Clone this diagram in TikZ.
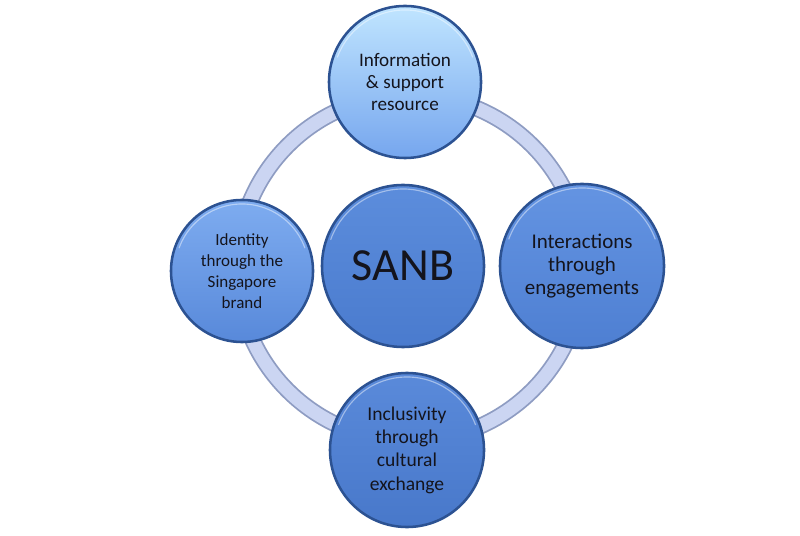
\documentclass[tikz,border=0pt]{standalone}
\usepackage{fontspec}
\setmainfont{Carlito}
\usetikzlibrary{calc}

\definecolor{ringfill}{RGB}{203,213,242}
\definecolor{ringedge}{RGB}{142,156,194}
\definecolor{rimblue}{RGB}{44,82,146}
\definecolor{txtdark}{RGB}{20,20,28}

\tikzset{
	bubble/.style={circle, draw=rimblue, line width=1.8pt, inner sep=0pt,
		align=center, text=txtdark},
	gloss/.style={white, opacity=0.45, line width=0.8pt}
}

\begin{document}
\begin{tikzpicture}[x=0.025cm,y=-0.025cm]
		% ring behind the bubbles
		\pgfmathsetmacro{\ringR}{173}
		\coordinate (hub) at (410,268);
		\draw[ringedge,line width=0.42cm] (hub) circle[radius=\ringR];
		\draw[ringfill,line width=0.33cm] (hub) circle[radius=\ringR];
		
		% the five bubbles
		\node[bubble, minimum size=3.8cm, top color={rgb,255:red,192;green,229;blue,255},
			bottom color={rgb,255:red,118;green,166;blue,238},
			font=\fontsize{13.6}{15.4}\selectfont] (info) at (405,82)
			{Information\\ \& support\\ resource};
		\node[bubble, minimum size=4.05cm, top color={rgb,255:red,92;green,141;blue,220},
			bottom color={rgb,255:red,74;green,123;blue,206},
			font=\fontsize{32.7}{36}\selectfont] (sanb) at (403,266) {SANB};
		\node[bubble, minimum size=3.55cm, top color={rgb,255:red,126;green,172;blue,240},
			bottom color={rgb,255:red,88;green,137;blue,218},
			font=\fontsize{12.1}{15}\selectfont] (ident) at (242,271)
			{Identity\\ through the\\ Singapore\\ brand};
		\node[bubble, minimum size=4.1cm, top color={rgb,255:red,100;green,148;blue,226},
			bottom color={rgb,255:red,78;green,127;blue,210},
			font=\fontsize{14.9}{16.6}\selectfont] (inter) at (582,266)
			{Interactions\\ through\\ engagements};
		\node[bubble, minimum size=3.85cm, top color={rgb,255:red,90;green,138;blue,218},
			bottom color={rgb,255:red,72;green,120;blue,202},
			font=\fontsize{13.9}{16.6}\selectfont] (incl) at (407,450)
			{Inclusivity\\ through\\ cultural\\ exchange};
		
		% soft highlight on the lower rims
		\foreach \b/\r in {info/72,sanb/77,ident/67,inter/78,incl/73}{
			\draw[gloss] (\b.center) ++(200:\r) arc[start angle=200,end angle=340,radius=\r];
		}
		
		\useasboundingbox (0,0) rectangle (800,536);
	\end{tikzpicture}
\end{document}
